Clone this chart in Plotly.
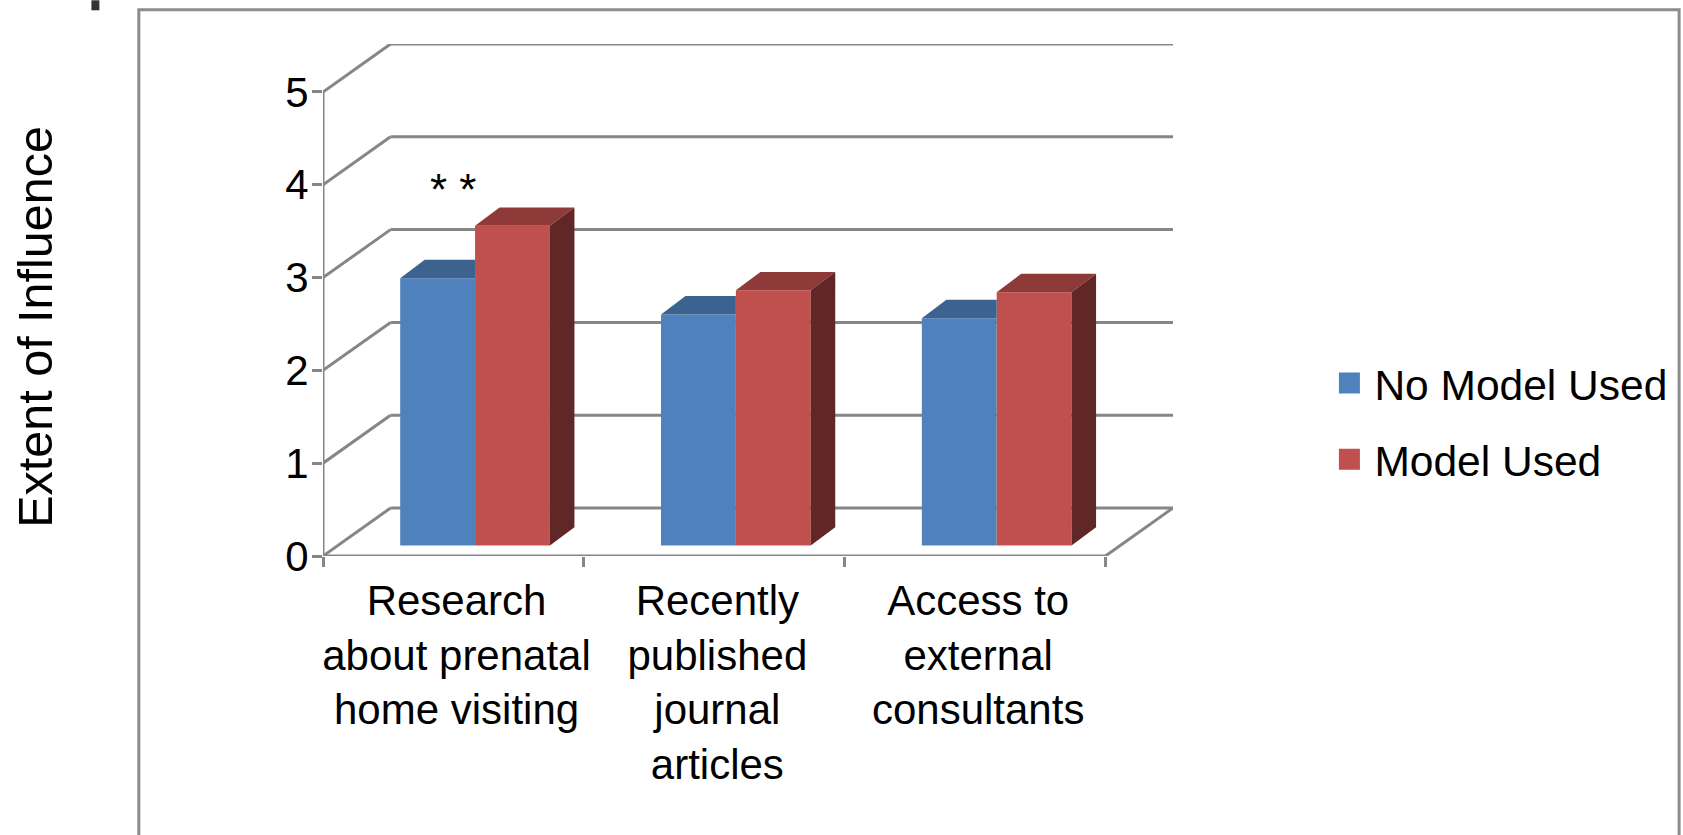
import plotly.graph_objects as go

categories = ["Research<br>about prenatal<br>home visiting",
              "Recently<br>published<br>journal<br>articles",
              "Access to<br>external<br>consultants"]
no_model_used = [2.88, 2.49, 2.45]
model_used = [3.445, 2.75, 2.73]
y_ticks = [0, 1, 2, 3, 4, 5]
series_names = ["No Model Used", "Model Used"]
y_title = "Extent of Influence"
note = "* *"

FONT = "Liberation Sans"
W, H = 1683, 835
L, R, T, B = 323.0, 1174.5, 43.7, 555.7
WALL_DX = 0.259   # oblique floor depth, in category units
WALL_DY = 0.517   # oblique floor depth, in value units
BAR_W = 0.287
GROUP_SHIFT = 0.083
BASE = 0.113
BAR_DX = 0.094
BAR_DY = 0.198
LABEL_SHIFT = 0.012
GRID = "#868686"
BLUE, BLUE_TOP = "#4F81BD", "#3C6290"
RED, RED_TOP, RED_SIDE = "#C0504D", "#8E3A38", "#612726"


def px(x):
    return (x - L) / (R - L)


def py(y):
    return (B - y) / (B - T)


n = len(categories)
centers = [i + 0.5 for i in range(n)]
fig = go.Figure()

# Front faces
fig.add_trace(go.Bar(x=centers, y=no_model_used, base=BASE, width=BAR_W, offset=GROUP_SHIFT - BAR_W,
                     marker=dict(color=BLUE, line=dict(width=0)), showlegend=False, hoverinfo="skip"))
fig.add_trace(go.Bar(x=centers, y=model_used, base=BASE, width=BAR_W, offset=GROUP_SHIFT,
                     marker=dict(color=RED, line=dict(width=0)), showlegend=False, hoverinfo="skip"))


def poly(xs, ys, color):
    fig.add_trace(go.Scatter(x=xs + xs[:1], y=ys + ys[:1], mode="lines", fill="toself", fillcolor=color,
                             line=dict(width=0, color=color), showlegend=False, hoverinfo="skip"))


# Oblique tops and sides, derived from the values
for c, blue, red in zip(centers, no_model_used, model_used):
    mid = c + GROUP_SHIFT
    bt, rt = BASE + blue, BASE + red
    poly([mid - BAR_W, mid, mid, mid - BAR_W + BAR_DX], [bt, bt, bt + BAR_DY, bt + BAR_DY], BLUE_TOP)
    poly([mid, mid + BAR_W, mid + BAR_W + BAR_DX, mid + BAR_DX], [rt, rt, rt + BAR_DY, rt + BAR_DY], RED_TOP)
    poly([mid + BAR_W, mid + BAR_W + BAR_DX, mid + BAR_W + BAR_DX, mid + BAR_W],
         [rt, rt + BAR_DY, BASE + BAR_DY, BASE], RED_SIDE)

# Legend entries
for name, color in zip(series_names, [BLUE, RED]):
    fig.add_trace(go.Scatter(x=[None], y=[None], mode="markers", name=name, legendgroup=name,
                             marker=dict(symbol="square", size=16, color=color, line=dict(width=5, color=color))))

# Oblique wall and floor lines
shapes = []
line = dict(color=GRID, width=3)
for v in y_ticks:
    shapes.append(dict(type="line", layer="below", xref="x", yref="y", x0=0, y0=v, x1=WALL_DX, y1=v + WALL_DY, line=line))
    shapes.append(dict(type="line", layer="below", xref="x", yref="y", x0=WALL_DX, y0=v + WALL_DY,
                       x1=n + WALL_DX, y1=v + WALL_DY, line=line))
shapes.append(dict(type="line", layer="below", xref="x", yref="y", x0=0, y0=0, x1=0, y1=max(y_ticks), line=line))
shapes.append(dict(type="line", layer="below", xref="x", yref="y", x0=0, y0=0, x1=n, y1=0, line=line))
shapes.append(dict(type="line", layer="below", xref="x", yref="y", x0=n, y0=0, x1=n + WALL_DX, y1=WALL_DY, line=line))
# Picture frame and stray mark at the top left
shapes.append(dict(type="path", xref="paper", yref="paper", line=dict(color="#8C8C8C", width=3),
                   path=f"M {px(138.5)} {py(840)} L {px(138.5)} {py(9.5)} L {px(1681.5)} {py(9.5)} L {px(1681.5)} {py(840)}"))
shapes.append(dict(type="rect", xref="paper", yref="paper", x0=px(91), x1=px(99), y0=py(0), y1=py(10),
                   fillcolor="#333333", line=dict(width=0)))

fig.update_layout(
    width=W, height=H, margin=dict(l=L, r=W - R, t=T, b=H - B, pad=0),
    paper_bgcolor="white", plot_bgcolor="white", barmode="overlay",
    font=dict(family=FONT, size=42, color="black"), shapes=shapes,
    xaxis=dict(range=[0, n + WALL_DX], tickmode="array", tickvals=[c + LABEL_SHIFT for c in centers],
               ticktext=categories, ticks="",
               showgrid=False, zeroline=False, showline=False, ticklabelstandoff=16,
               tickfont=dict(family=FONT, size=42, color="black"),
               minor=dict(tickmode="array", tickvals=list(range(n + 1)), ticks="outside", ticklen=10,
                          tickwidth=3, tickcolor=GRID, showgrid=False)),
    yaxis=dict(range=[0, max(y_ticks) + WALL_DY], tickmode="array", tickvals=y_ticks, ticks="outside", ticklen=10,
               tickwidth=3, tickcolor=GRID, showgrid=False, zeroline=False, showline=False,
               ticklabelstandoff=-5,
               tickfont=dict(family=FONT, size=42, color="black")),
    legend=dict(x=px(1325), y=py(421), xanchor="left", yanchor="middle", itemwidth=40, tracegroupgap=18,
                font=dict(family=FONT, size=42.5, color="black"), bgcolor="rgba(0,0,0,0)"),
    annotations=[
        dict(x=centers[0], y=3.95, xref="x", yref="y", text=note, showarrow=False,
             font=dict(family=FONT, size=44, color="black"), xanchor="center", yanchor="middle"),
        dict(x=px(35), y=py(327), xref="paper", yref="paper", text=y_title, textangle=-90, showarrow=False,
             font=dict(family=FONT, size=48.5, color="black"), xanchor="center", yanchor="middle"),
    ],
)

fig.write_html("out.html", config={"displayModeBar": False},
               post_script="document.body.style.margin='0';document.body.style.overflow='hidden';")
